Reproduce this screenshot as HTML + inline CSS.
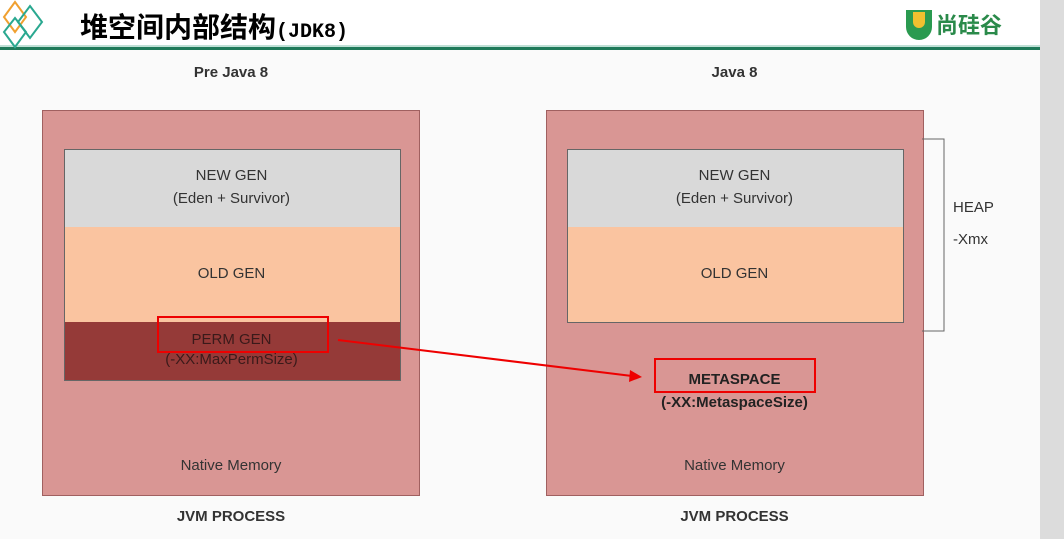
<!DOCTYPE html>
<html><head><meta charset="utf-8"><style>
body{margin:0;width:1064px;height:539px;background:#f6f6f6;position:relative;overflow:hidden;font-family:"Liberation Sans",sans-serif}
.a{position:absolute}
.t{position:absolute;text-align:center;color:#333;font-size:15px}
</style></head><body>
<div class="a" style="left:0;top:0;width:1040px;height:45px;background:#fff"></div>
<div class="a" style="left:1040px;top:0;width:24px;height:539px;background:#dcdcdc"></div>
<div class="a" style="left:0;top:45px;width:1040px;height:2px;background:#bfe0d6"></div>
<div class="a" style="left:0;top:47px;width:1040px;height:3px;background:#1f7a5a"></div>
<div class="a" style="left:0;top:50px;width:1040px;height:489px;background:#fafafa"></div>
<svg class="a" style="left:0;top:0" width="60" height="50"><polygon points="15,2 26,17 15,32 4,17" fill="none" stroke="#f0a030" stroke-width="2"/><polygon points="30,6 42,22 30,38 18,22" fill="none" stroke="#2aa890" stroke-width="2"/><polygon points="15,18 26,32 15,47 4,32" fill="none" stroke="#2aa890" stroke-width="2"/></svg>
<div class="a" style="left:80px;top:6px;font-size:28px;font-weight:bold;font-family:'Liberation Sans','Noto Sans CJK SC',sans-serif;color:#000">堆空间内部结构<span style="font-family:'Liberation Mono',monospace;font-size:20px">(JDK8)</span></div>
<div class="a" style="left:906px;top:10px;width:26px;height:30px;border-radius:0 0 13px 13px;background:#2a9a50"></div>
<div class="a" style="left:913px;top:12px;width:12px;height:16px;border-radius:0 0 6px 6px;background:#f0c030"></div>
<div class="a" style="left:936px;top:8px;font-size:22px;font-weight:bold;color:#2a8a4a;font-family:'Liberation Sans','Noto Sans CJK SC',sans-serif">尚硅谷</div>

<div class="t" style="left:42px;width:378px;top:64px;font-weight:bold">Pre Java 8</div>
<div class="t" style="left:546px;width:377px;top:64px;font-weight:bold">Java 8</div>

<div class="a" style="left:42px;top:110px;width:376px;height:384px;background:#d99694;border:1px solid #a06060"></div>
<div class="a" style="left:64px;top:149px;width:335px;height:77px;background:#d9d9d9;border:1px solid #666"></div>
<div class="a" style="left:64px;top:227px;width:335px;height:95px;background:#fac4a0;border:1px solid #666;border-top:none"></div>
<div class="a" style="left:64px;top:322px;width:335px;height:58px;background:#953a38;border:1px solid #666;border-top:none"></div>
<div class="t" style="left:64px;width:335px;top:164px;line-height:23px">NEW GEN<br>(Eden + Survivor)</div>
<div class="t" style="left:64px;width:335px;top:265px">OLD GEN</div>
<div class="t" style="left:64px;width:335px;top:330px;line-height:20px;color:#3a1a1a">PERM GEN<br>(-XX:MaxPermSize)</div>
<div class="a" style="left:157px;top:316px;width:168px;height:33px;border:2px solid #e00"></div>
<div class="t" style="left:42px;width:378px;top:457px">Native Memory</div>
<div class="t" style="left:42px;width:378px;top:508px;font-weight:bold">JVM PROCESS</div>

<div class="a" style="left:546px;top:110px;width:376px;height:384px;background:#d99694;border:1px solid #a06060"></div>
<div class="a" style="left:567px;top:149px;width:335px;height:77px;background:#d9d9d9;border:1px solid #666"></div>
<div class="a" style="left:567px;top:227px;width:335px;height:95px;background:#fac4a0;border:1px solid #666;border-top:none"></div>
<div class="t" style="left:567px;width:335px;top:164px;line-height:23px">NEW GEN<br>(Eden + Survivor)</div>
<div class="t" style="left:567px;width:335px;top:265px">OLD GEN</div>
<div class="a" style="left:654px;top:358px;width:158px;height:31px;border:2px solid #e00"></div>
<div class="t" style="left:546px;width:377px;top:368px;line-height:23px;font-weight:bold;color:#222">METASPACE<br>(-XX:MetaspaceSize)</div>
<div class="t" style="left:546px;width:377px;top:457px">Native Memory</div>
<div class="t" style="left:546px;width:377px;top:508px;font-weight:bold">JVM PROCESS</div>

<svg class="a" style="left:0;top:0" width="1040" height="539">
<polyline points="922,139 944,139 944,331 922,331" fill="none" stroke="#666" stroke-width="1"/>
<line x1="338" y1="340" x2="632" y2="376" stroke="#e00" stroke-width="2"/>
<polygon points="642,377 630,370 629,382" fill="#e00"/>
</svg>
<div class="a" style="left:953px;top:192px;font-size:15px;color:#333;line-height:32px">HEAP<br>-Xmx</div>
</body></html>
